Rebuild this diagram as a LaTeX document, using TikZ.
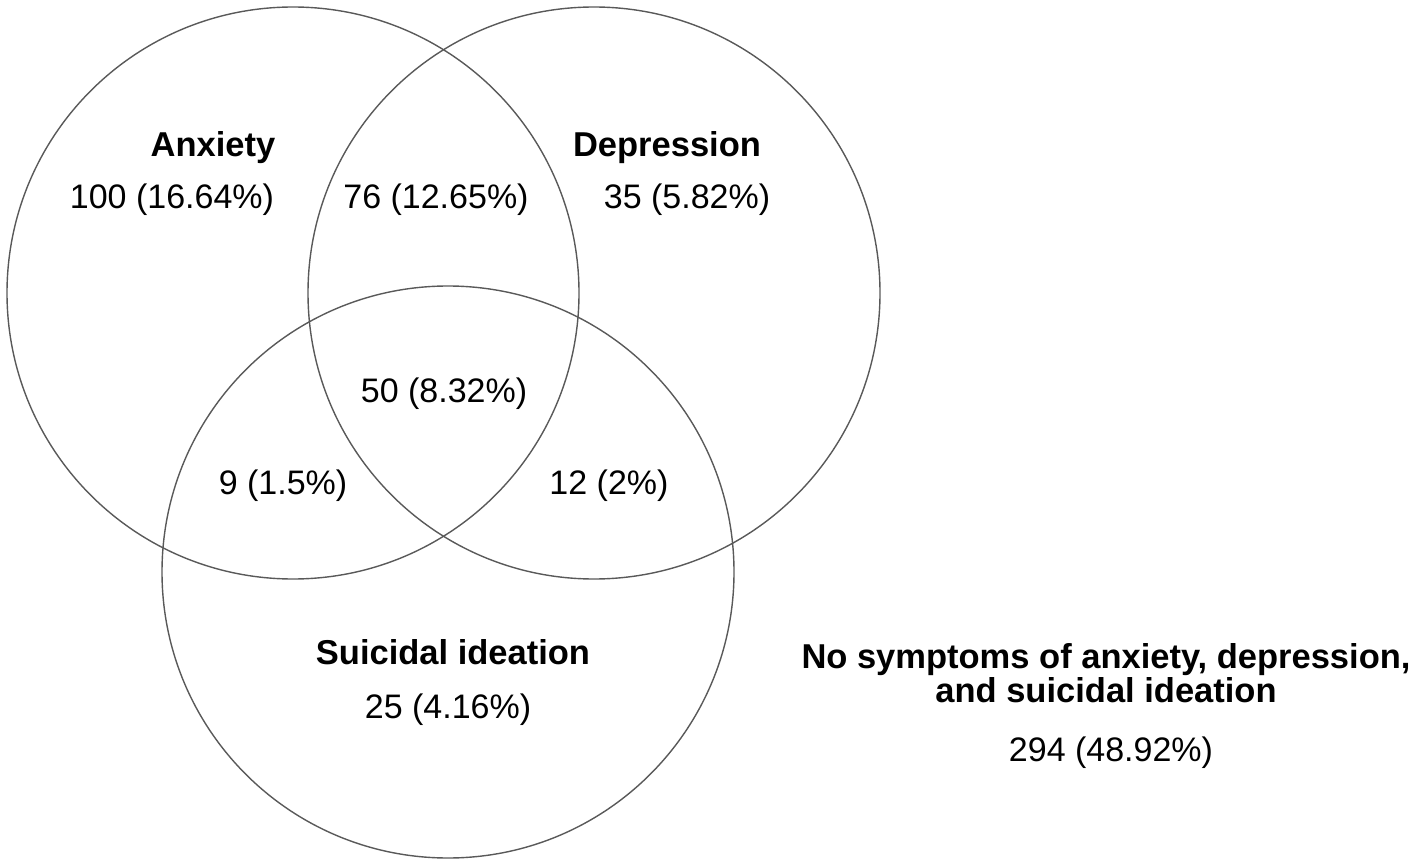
\documentclass[tikz,border=0pt]{standalone}
\usepackage{fontspec}
\setmainfont{Liberation Sans}
\begin{document}
\begin{tikzpicture}[x=1pt,y=-1pt,
  ring/.style={draw=black!65, line width=1.4pt},
  lbl/.style={anchor=base, inner sep=0pt, font=\fontsize{34}{39}\selectfont},
  ttl/.style={anchor=base, inner sep=0pt, font=\fontsize{34.5}{39}\selectfont\bfseries}]
\useasboundingbox (0,0) rectangle (1418,866);
\node[ring, circle, minimum size=572pt, inner sep=0pt] (A) at (293,293) {};
\node[ring, circle, minimum size=572pt, inner sep=0pt] (D) at (594,293) {};
\node[ring, circle, minimum size=572pt, inner sep=0pt] (S) at (448,572) {};
\node[ttl] (tA) at (213,157) {Anxiety};
\node[lbl] (nA) at (172,209) {100 (16.64\%)};
\node[lbl] (nAD) at (436,209) {76 (12.65\%)};
\node[ttl] (tD) at (667,157) {Depression};
\node[lbl] (nD) at (687,209) {35 (5.82\%)};
\node[lbl] (nADS) at (444,402) {50 (8.32\%)};
\node[lbl] (nAS) at (283,494) {9 (1.5\%)};
\node[lbl] (nDS) at (609,494) {12 (2\%)};
\node[ttl] (tS) at (453,664) {Suicidal ideation};
\node[lbl] (nS) at (448,718) {25 (4.16\%)};
\node[ttl] (tN1) at (1106,668) {No symptoms of anxiety, depression,};
\node[ttl] (tN2) at (1106,702) {and suicidal ideation};
\node[lbl] (nN) at (1111,761) {294 (48.92\%)};
\end{tikzpicture}
\end{document}
